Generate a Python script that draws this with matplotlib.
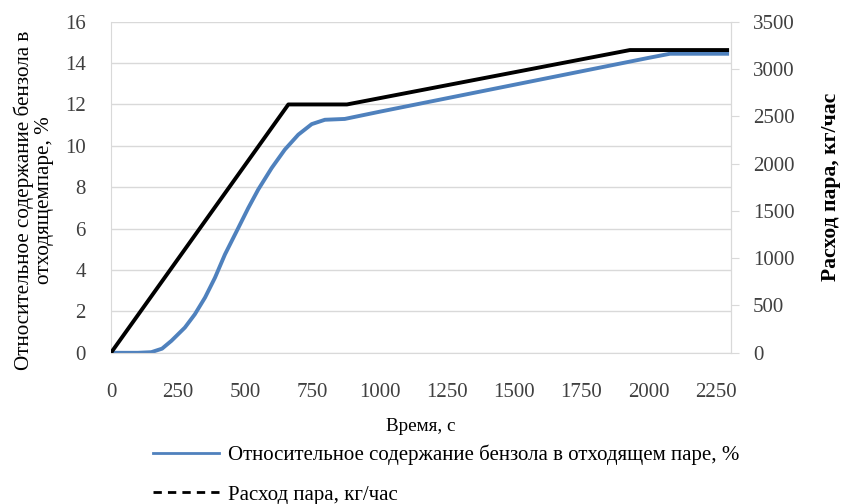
import matplotlib
matplotlib.use('Agg')
import matplotlib.pyplot as plt
from matplotlib.lines import Line2D

# time, s and relative benzene content in the outgoing steam, %
benzene_t = [0, 50, 100, 150, 190, 225, 250, 275, 312, 350, 387, 424, 474, 511, 548,
             598, 647, 697, 747, 796, 870, 1000, 1250, 1500, 1750, 2000, 2080, 2300]
benzene_pct = [0, 0, 0, 0.03, 0.2, 0.58, 0.9, 1.22, 1.86, 2.67, 3.63, 4.75, 6.04, 7.0, 7.89,
               8.93, 9.82, 10.54, 11.05, 11.26, 11.3, 11.65, 12.3, 12.95, 13.6, 14.25, 14.45, 14.45]

# time, s and steam flow, kg/h
steam_t = [0, 660, 878, 1931, 2300]
steam_flow = [0, 2625, 2625, 3200, 3200]

left_ticks = [0, 2, 4, 6, 8, 10, 12, 14, 16]
right_ticks = [0, 500, 1000, 1500, 2000, 2500, 3000, 3500]
x_ticks = [0, 250, 500, 750, 1000, 1250, 1500, 1750, 2000, 2250]

plt.rcParams['font.family'] = ['Liberation Serif', 'DejaVu Serif']

fig = plt.figure(figsize=(8.42, 5.04), dpi=100)
ax = fig.add_axes([0.1318, 0.300, 0.736, 0.657])
ax2 = ax.twinx()

blue = '#4f81bd'
grey = '#d9d9d9'
tick_col = '#404040'

ax.plot(benzene_t, benzene_pct, color=blue, lw=2.8, solid_capstyle='butt',
        solid_joinstyle='round')
ax2.plot(steam_t, steam_flow, color='black', lw=2.8, solid_capstyle='butt')

ax.set_xlim(0, 2306)
ax.set_ylim(0, 16)
ax2.set_ylim(0, 3500)
ax.set_xticks(x_ticks)
ax.set_yticks(left_ticks)
ax2.set_yticks(right_ticks)

ax.grid(axis='y', color=grey, lw=1)
ax.set_axisbelow(True)

for a in (ax, ax2):
    a.spines['top'].set_visible(False)
    a.spines['left'].set_color(grey)
    a.spines['bottom'].set_color(grey)
    a.spines['right'].set_color(grey)
ax2.spines['left'].set_visible(False)
ax2.spines['bottom'].set_visible(False)

ax.tick_params(axis='x', length=0, pad=22, labelsize=15, labelcolor=tick_col)
ax.tick_params(axis='y', length=0, pad=18, labelsize=15, labelcolor=tick_col)
ax2.tick_params(axis='y', length=6, color=grey, pad=10, labelsize=15, labelcolor=tick_col)

ax.set_ylabel('Относительное содержание бензола в\nотходящемпаре, %', fontsize=15.2,
              linespacing=1.05)
ax.yaxis.set_label_coords(-0.092, 0.46)
ax2.set_ylabel('Расход пара, кг/час', fontsize=15.6, fontweight='bold', labelpad=19)
ax.set_xlabel('Время, с', fontsize=13.8, labelpad=11)

handles = [Line2D([], [], color=blue, lw=2),
           Line2D([], [], color='black', lw=2, ls=(0, (3, 2.2)))]
labels = ['Относительное содержание бензола в отходящем паре, %', 'Расход пара, кг/час']
fig.legend(handles, labels, loc='upper left', bbox_to_anchor=(0.172, 0.134),
           frameon=False, fontsize=15, handlelength=3.15, handletextpad=0.45,
           labelspacing=0.95, borderaxespad=0)

fig.savefig('out.png', dpi=100)
